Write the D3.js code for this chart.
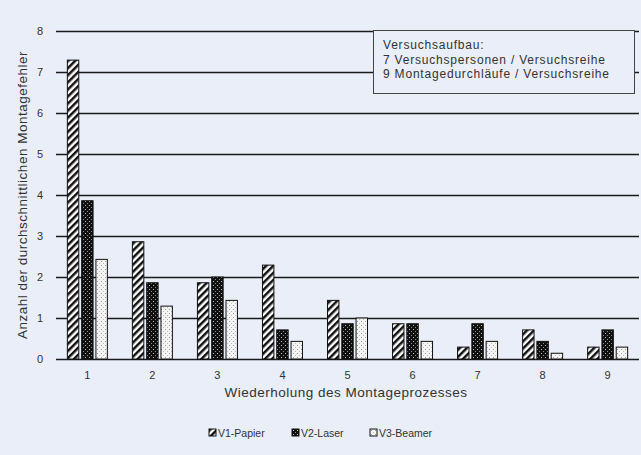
<!DOCTYPE html>
<html>
<head>
<meta charset="utf-8">
<script src="https://cdn.jsdelivr.net/npm/d3@7"></script>
<style>
body{margin:0;background:#e9eef8;}
svg{display:block;font-family:"Liberation Sans",Arial,sans-serif;}
</style>
</head>
<body>
<svg width="641" height="455"></svg>
<script>
// Wiederholungen 1..9
var runs=["1","2","3","4","5","6","7","8","9"];
var series=["V1-Papier","V2-Laser","V3-Beamer"];
var papier=[7.29,2.86,1.86,2.29,1.43,0.86,0.29,0.71,0.29];
var laser=[3.86,1.86,2.0,0.71,0.86,0.86,0.86,0.43,0.71];
var beamer=[2.43,1.29,1.43,0.43,1.0,0.43,0.43,0.14,0.29];
var yticks=[0,1,2,3,4,5,6,7,8];
var note=["Versuchsaufbau:","7 Versuchspersonen / Versuchsreihe","9 Montagedurchläufe / Versuchsreihe"];

var values=[papier,laser,beamer];

var svg=d3.select("svg");
var mLeft=55,mRight=640,mTop=31,mBottom=359;

svg.append("rect").attr("width",641).attr("height",455).attr("fill","#e9eef8");

var defs=svg.append("defs");
var p1=defs.append("pattern").attr("id","hatch").attr("patternUnits","userSpaceOnUse")
  .attr("width",5).attr("height",5).attr("patternTransform","rotate(45)");
p1.append("rect").attr("width",5).attr("height",5).attr("fill","#fff");
p1.append("rect").attr("width",2.5).attr("height",5).attr("fill","#111");

var p2=defs.append("pattern").attr("id","dark").attr("patternUnits","userSpaceOnUse")
  .attr("width",4).attr("height",4);
p2.append("rect").attr("width",4).attr("height",4).attr("fill","#111");
p2.append("rect").attr("x",1).attr("y",1).attr("width",1).attr("height",1).attr("fill","#bbb");
p2.append("rect").attr("x",3).attr("y",3).attr("width",1).attr("height",1).attr("fill","#888");

var p3=defs.append("pattern").attr("id","light").attr("patternUnits","userSpaceOnUse")
  .attr("width",4).attr("height",4);
p3.append("rect").attr("width",4).attr("height",4).attr("fill","#f4f4f4");
p3.append("rect").attr("x",1).attr("y",1).attr("width",1).attr("height",1).attr("fill","#999");
p3.append("rect").attr("x",3).attr("y",3).attr("width",1).attr("height",1).attr("fill","#bbb");

var fills=["url(#hatch)","url(#dark)","url(#light)"];

var x=d3.scaleBand().domain(runs).range([mLeft,mRight]).paddingInner(0.385).paddingOuter(0.19);
var xs=d3.scaleBand().domain(series).range([0,x.bandwidth()]).paddingInner(0.2);
var y=d3.scaleLinear().domain([0,8]).range([mBottom,mTop]);

// grid
var yaxis=d3.axisLeft(y).tickValues(yticks).tickSize(-(mRight-mLeft-2)).tickFormat(d3.format("d"));
var gy=svg.append("g").attr("transform","translate("+(mLeft+1)+",0)").call(yaxis);
gy.select(".domain").remove();
gy.selectAll("line").attr("stroke","#1a1a1a").attr("stroke-width",1.4);
gy.selectAll("text").attr("x",-13).attr("fill","#333").style("font-size","11px");

// bars
series.forEach(function(s,i){
  svg.append("g").selectAll("rect").data(values[i]).enter().append("rect")
    .attr("x",(d,j)=>x(runs[j])+xs(s))
    .attr("y",d=>y(d))
    .attr("width",xs.bandwidth())
    .attr("height",d=>y(0)-y(d))
    .attr("fill",fills[i])
    .attr("stroke","#111").attr("stroke-width",1);
});

// x axis labels
var xaxis=d3.axisBottom(x).tickSize(0).tickPadding(12);
var gx=svg.append("g").attr("transform","translate(0,"+mBottom+")").call(xaxis);
gx.select(".domain").remove();
gx.selectAll("text").attr("fill","#333").style("font-size","11px");

svg.append("text").attr("x",346).attr("y",397).attr("text-anchor","middle")
  .attr("fill","#333").style("font-size","13.5px").style("letter-spacing","0.5px")
  .text("Wiederholung des Montageprozesses");

svg.append("text").attr("transform","translate(27,195) rotate(-90)").attr("text-anchor","middle")
  .attr("fill","#333").style("font-size","13.5px").style("letter-spacing","0.5px")
  .text("Anzahl der durchschnittlichen Montagefehler");

// note box
svg.append("rect").attr("x",373.5).attr("y",30.5).attr("width",261).attr("height",63)
  .attr("fill","#e9eef8").attr("stroke","#444").attr("stroke-width",1);
svg.append("g").selectAll("text").data(note).enter().append("text")
  .attr("x",383).attr("y",(d,i)=>49+i*14.5).attr("fill","#333")
  .style("font-size","12px").style("letter-spacing","0.8px").text(d=>d);

// legend
var lx=[209,292,370];
var lg=svg.append("g").selectAll("g").data(series).enter().append("g")
  .attr("transform",(d,i)=>"translate("+lx[i]+",429)");
lg.append("rect").attr("width",7).attr("height",7).attr("fill",(d,i)=>fills[i]).attr("stroke","#111");
lg.append("text").attr("x",9).attr("y",7.5).attr("fill","#333").style("font-size","10.5px").text(d=>d);
</script>
</body>
</html>
